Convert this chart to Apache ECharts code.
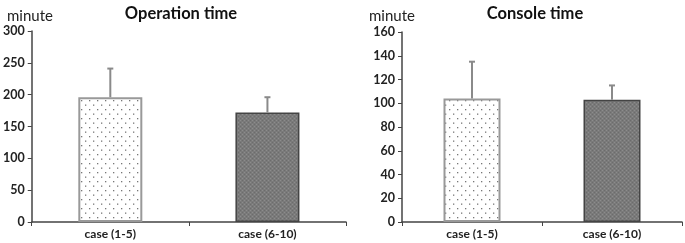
<!DOCTYPE html>
<html>
<head>
<meta charset="utf-8">
<script src="https://cdn.jsdelivr.net/npm/echarts@6/dist/echarts.min.js"></script>
<style>
  html, body { margin: 0; padding: 0; background: #fff; }
  #chart { width: 685px; height: 243px; }
</style>
</head>
<body>
<div id="chart"></div>
<script>
  // values (minutes)
  const categories = ['case (1-5)', 'case (6-10)']
  const opMean = [196, 172]
  const opUpper = [241, 196]
  const conMean = [104, 103]
  const conUpper = [135, 115]
  const opAxis = { max: 300, interval: 50 }
  const conAxis = { max: 160, interval: 20 }

  const font = 'Lato'

  // dotted fill for the first group
  function dotPattern() {
    const c = document.createElement('canvas')
    c.width = 8
    c.height = 9
    const ctx = c.getContext('2d')
    ctx.fillStyle = '#fff'
    ctx.fillRect(0, 0, 8, 9)
    ctx.fillStyle = '#777'
    ctx.fillRect(1, 1, 1.3, 1.3)
    ctx.fillRect(5, 5.5, 1.3, 1.3)
    return c
  }
  // fine grainy grey for the second group
  function grainPattern() {
    const c = document.createElement('canvas')
    c.width = 4
    c.height = 4
    const ctx = c.getContext('2d')
    ctx.fillStyle = '#7a7a7a'
    ctx.fillRect(0, 0, 4, 4)
    ctx.fillStyle = '#8c8c8c'
    ctx.fillRect(0, 0, 1, 1)
    ctx.fillRect(2, 2, 1, 1)
    ctx.fillStyle = '#6c6c6c'
    ctx.fillRect(2, 0, 1, 1)
    ctx.fillRect(0, 2, 1, 1)
    return c
  }
  const barStyles = [
    { color: { image: dotPattern(), repeat: 'repeat' }, borderColor: '#999', borderWidth: 2 },
    { color: { image: grainPattern(), repeat: 'repeat' }, borderColor: '#444', borderWidth: 1.5 }
  ]

  function errorSeries(idx, mean, upper) {
    return {
      type: 'custom',
      xAxisIndex: idx,
      yAxisIndex: idx,
      z: 5,
      data: categories.map((c, i) => [i, mean[i], upper[i]]),
      renderItem(params, api) {
        const p0 = api.coord([api.value(0), api.value(1)])
        const p1 = api.coord([api.value(0), api.value(2)])
        const st = { stroke: '#8a8a8a', lineWidth: 2 }
        return {
          type: 'group',
          children: [
            { type: 'line', shape: { x1: p0[0], y1: p0[1], x2: p1[0], y2: p1[1] }, style: st },
            { type: 'line', shape: { x1: p1[0] - 3, y1: p1[1], x2: p1[0] + 3, y2: p1[1] }, style: st }
          ]
        }
      }
    }
  }

  function xAxis(idx) {
    return {
      type: 'category',
      gridIndex: idx,
      data: categories,
      axisLine: { lineStyle: { color: '#444', width: 1.5 } },
      axisTick: { show: true, length: 4, lineStyle: { color: '#444' } },
      axisLabel: { color: '#222', fontFamily: font, fontSize: 12, fontWeight: 'bold', margin: 6 }
    }
  }
  function yAxis(idx, ax) {
    return {
      type: 'value',
      gridIndex: idx,
      min: 0,
      max: ax.max,
      interval: ax.interval,
      splitLine: { show: false },
      axisLine: { show: true, lineStyle: { color: '#444', width: 1.5 } },
      axisTick: { show: true, length: 4, lineStyle: { color: '#444' } },
      axisLabel: { color: '#222', fontFamily: font, fontSize: 12.5, fontWeight: 'bold', margin: 7 }
    }
  }

  const chart = echarts.init(document.getElementById('chart'))
  chart.setOption({
    animation: false,
    title: [
      { text: 'Operation time', left: 176, top: 0, textAlign: 'center',
        textStyle: { fontFamily: font, fontSize: 16.5, fontWeight: 'bold', color: '#111' } },
      { text: 'Console time', left: 530, top: 0, textAlign: 'center',
        textStyle: { fontFamily: font, fontSize: 16.5, fontWeight: 'bold', color: '#111' } },
      { text: 'minute', left: 2, top: 4,
        textStyle: { fontFamily: font, fontSize: 15, fontWeight: 'normal', color: '#222' } },
      { text: 'minute', left: 364, top: 4,
        textStyle: { fontFamily: font, fontSize: 15, fontWeight: 'normal', color: '#222' } }
    ],
    grid: [
      { left: 30, right: 339, top: 31, bottom: 21 },
      { left: 402, right: 3, top: 32, bottom: 21 }
    ],
    xAxis: [xAxis(0), xAxis(1)],
    yAxis: [yAxis(0, opAxis), yAxis(1, conAxis)],
    series: [
      {
        type: 'bar', xAxisIndex: 0, yAxisIndex: 0, barWidth: 64,
        data: opMean.map((v, i) => ({ value: v, itemStyle: barStyles[i] }))
      },
      errorSeries(0, opMean, opUpper),
      {
        type: 'bar', xAxisIndex: 1, yAxisIndex: 1, barWidth: 57,
        data: conMean.map((v, i) => ({ value: v, itemStyle: barStyles[i] }))
      },
      errorSeries(1, conMean, conUpper)
    ]
  })
</script>
</body>
</html>
